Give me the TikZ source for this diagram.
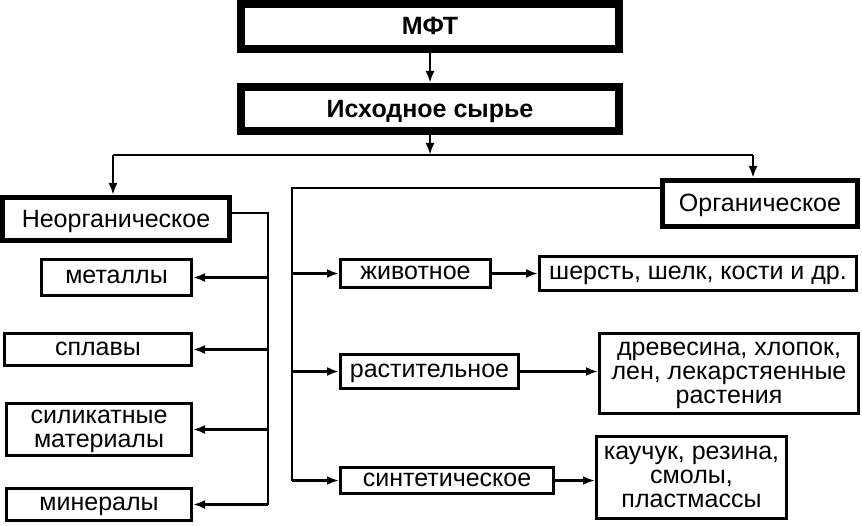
\documentclass[tikz,border=0pt]{standalone}
\usepackage{fontspec}
\setmainfont{Liberation Sans}
\usetikzlibrary{arrows.meta}

\tikzset{
  box/.style={draw, line width=3pt, fill=white, align=center, inner sep=1pt,
              text depth=1pt, font=\fontsize{25}{24}\selectfont},
  headbox/.style={box, line width=8pt, font=\bfseries\fontsize{25}{24}\selectfont},
  groupbox/.style={box, line width=5pt},
  link/.style={line width=2.5pt},
  arrow/.style={link, -{Latex[length=12pt, width=9pt]}}
}

\begin{document}
\begin{tikzpicture}[x=1pt, y=-1pt]
  \useasboundingbox (0,0) rectangle (862,526);

  % top of the tree
  \node[headbox, minimum width=378pt, minimum height=45pt] (mft) at (430,26.5) {МФТ};
  \node[headbox, minimum width=378pt, minimum height=44pt] (src) at (430,109) {Исходное сырье};

  % two groups
  \node[groupbox, minimum width=227pt, minimum height=43pt] (inorg) at (116,219) {Неорганическое};
  \node[groupbox, minimum width=195pt, minimum height=46pt] (org) at (760,203.5) {Органическое};

  % inorganic kinds
  \node[box, minimum width=150pt, minimum height=36pt] (met) at (116.5,277.5) {металлы};
  \node[box, minimum width=187pt, minimum height=32pt] (spl) at (98,349.5) {сплавы};
  \node[box, minimum width=185pt, minimum height=52pt] (sil) at (99,429.5) {силикатные\\материалы};
  \node[box, minimum width=185pt, minimum height=32pt] (min) at (99,504.5) {минералы};

  % organic kinds
  \node[box, minimum width=150pt, minimum height=28pt] (anim) at (415.5,273.5) {животное};
  \node[box, minimum width=178pt, minimum height=34pt] (plant) at (429.5,371.5) {растительное};
  \node[box, minimum width=213pt, minimum height=26pt] (synth) at (447,480.5) {синтетическое};

  % examples
  \node[box, minimum width=317pt, minimum height=34pt] (wool) at (698,273.5) {шерсть, шелк, кости и др.};
  \node[box, minimum width=259pt, minimum height=80pt] (wood) at (729,373.5) {древесина, хлопок,\\лен, лекарстяенные\\растения};
  \node[box, minimum width=190pt, minimum height=82pt] (rubber) at (691.5,477.5) {каучук, резина,\\смолы,\\пластмассы};

  % bus under the source box
  \coordinate (busL) at (113,155);
  \coordinate (busR) at (753,155);
  \draw[arrow] (mft.south) -- (src.north);
  \draw[arrow] (src.south) -- (src.south |- busL);
  \draw[link] (busL) -- (busR);
  \draw[arrow] (busL) -- (busL |- inorg.north);
  \draw[arrow] (busR) -- (busR |- org.north);

  % left spine
  \coordinate (lsp) at (268,213);
  \draw[link] (inorg.east |- lsp) -- (lsp) -- (lsp |- min.east);
  \foreach \k in {met, spl, sil, min}
    \draw[arrow] (lsp |- \k.east) -- (\k.east);

  % right spine
  \coordinate (rsp) at (292,188);
  \draw[link] (org.west |- rsp) -- (rsp) -- (rsp |- synth.west);
  \foreach \k in {anim, plant, synth}
    \draw[arrow] (rsp |- \k.west) -- (\k.west);

  \draw[arrow] (anim.east) -- (anim.east -| wool.west);
  \draw[arrow] (plant.east) -- (plant.east -| wood.west);
  \draw[arrow] (synth.east) -- (synth.east -| rubber.west);
\end{tikzpicture}
\end{document}
